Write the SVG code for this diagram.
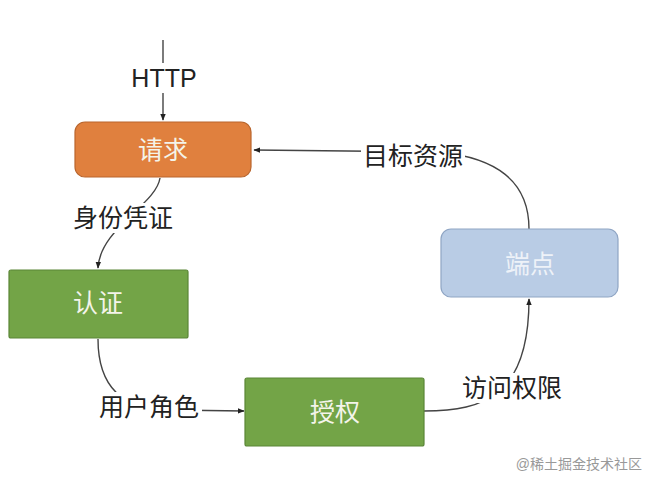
<svg xmlns="http://www.w3.org/2000/svg" width="658" height="486" viewBox="0 0 658 486">
<defs>
<style>
.t{font-family:"Liberation Sans","Noto Sans CJK SC",sans-serif;font-size:25px;text-anchor:middle;dominant-baseline:central}
.lbl{fill:#222}
.nt{fill:#f4f4ea}
.c{fill:none;stroke:#444;stroke-width:1.4}
.bg{fill:#fff}
</style>
<marker id="a" viewBox="0 0 10 10" refX="9" refY="5" markerWidth="7" markerHeight="7" orient="auto" markerUnits="userSpaceOnUse">
<path d="M0,1 L10,5 L0,9 z" fill="#222"/>
</marker>
</defs>
<rect width="658" height="486" fill="#fff"/>
<g id="connectors">
<path class="c" d="M163,40 L163,120" marker-end="url(#a)"/>
<path class="c" d="M529,229 C529,180 495,158 440,152 L254,150" marker-end="url(#a)"/>
<path class="c" d="M160,178 C156,205 100,228 98,268" marker-end="url(#a)"/>
<path class="c" d="M98,339 C98,385 120,410 170,410 L244,411" marker-end="url(#a)"/>
<path class="c" d="M424,411 C485,411 529,395 529,299" marker-end="url(#a)"/>
<rect class="bg" x="128" y="63" width="72" height="30"/>
<text class="t lbl" x="164" y="78">HTTP</text>
<rect class="bg" x="361" y="141" width="104" height="30"/>
<text class="t lbl" x="413" y="156">目标资源</text>
<rect class="bg" x="71" y="203" width="104" height="30"/>
<text class="t lbl" x="123" y="218">身份凭证</text>
<rect class="bg" x="96" y="392" width="106" height="30"/>
<text class="t lbl" x="149" y="407">用户角色</text>
<rect class="bg" x="459" y="373" width="106" height="30"/>
<text class="t lbl" x="512" y="388">访问权限</text>
</g>
<g id="node-request">
<rect x="75" y="122" width="176" height="55" rx="10" fill="#E0803E" stroke="#b9652d" stroke-width="1.2"/>
<text class="t nt" x="163" y="150">请求</text>
</g>
<g id="node-authn">
<rect x="9" y="270" width="179" height="68" rx="2" fill="#73A447" stroke="#5a8636" stroke-width="1.2"/>
<text class="t nt" x="98" y="303">认证</text>
</g>
<g id="node-authz">
<rect x="245" y="378" width="179" height="68" rx="2" fill="#73A447" stroke="#5a8636" stroke-width="1.2"/>
<text class="t nt" x="335" y="412">授权</text>
</g>
<g id="node-endpoint">
<rect x="441" y="229" width="177" height="68" rx="10" fill="#B9CCE5" stroke="#8fa5c4" stroke-width="1.2"/>
<text class="t" x="530" y="264" fill="#eef2f8">端点</text>
</g>
<text x="642" y="464" font-family="Liberation Sans,'Noto Sans CJK SC',sans-serif" font-size="14" fill="#999" text-anchor="end" dominant-baseline="central">@稀土掘金技术社区</text>
</svg>
